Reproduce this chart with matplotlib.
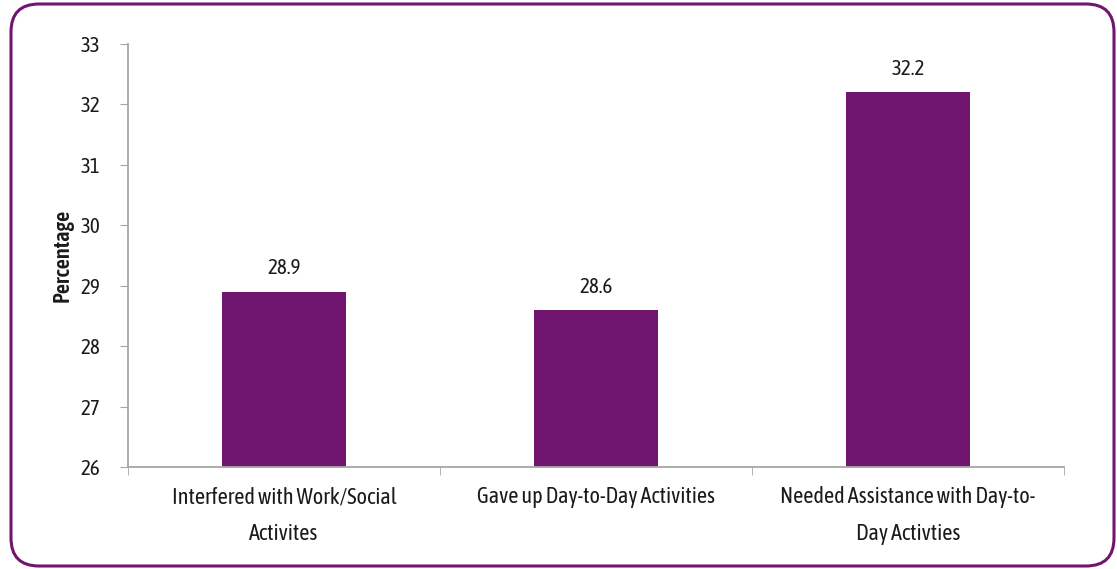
import matplotlib
matplotlib.use("Agg")
import matplotlib.pyplot as plt
from matplotlib.patches import FancyBboxPatch
from matplotlib.transforms import IdentityTransform
import numpy as np

categories = ["Interfered with Work/Social\nActivites",
              "Gave up Day-to-Day Activities",
              "Needed Assistance with Day-to-\nDay Activties"]
values = [28.9, 28.6, 32.2]
yticks = [26, 27, 28, 29, 30, 31, 32, 33]

purple = "#701570"
axis_gray = "#A6A6A6"
text_col = "#1a1a1a"

plt.rcParams['font.family'] = ['Asap Condensed', 'DejaVu Sans']

fig = plt.figure(figsize=(11.17, 5.69), dpi=100)
ax = fig.add_axes([128/1117, 1-467/569, (1064-128)/1117, (467-44)/569])

x = np.arange(len(categories))
ax.bar(x, [v - 26 for v in values], bottom=26, width=0.4, color=purple, zorder=2)
for xi, v in zip(x, values):
    ax.text(xi, v + 0.22, f"{v:.1f}", ha="center", va="bottom", fontsize=15, color=text_col)

ax.set_xlim(-0.5, 2.5)
ax.set_ylim(26, 33)
ax.set_yticks(yticks)
ax.set_yticklabels([str(t) for t in yticks], fontsize=15, color=text_col)
ax.set_xticks(x)
ax.set_xticklabels(categories, fontsize=16, color=text_col, linespacing=1.85)
ax.set_xticks([-0.5, 0.5, 1.5, 2.5], minor=True)
ax.tick_params(axis='x', which='major', length=0, pad=14)
ax.tick_params(axis='x', which='minor', length=6, color=axis_gray, direction='out')
ax.tick_params(axis='y', length=6, color=axis_gray, direction='out', pad=14)

for s in ["top", "right"]:
    ax.spines[s].set_visible(False)
for s in ["left", "bottom"]:
    ax.spines[s].set_color(axis_gray)
    ax.spines[s].set_linewidth(1.3)

ax.set_ylabel("Percentage", fontsize=16, fontweight=600, color=text_col, labelpad=5)

border = FancyBboxPatch((11, 3), 1103, 562,
                        boxstyle="round,pad=0,rounding_size=28",
                        transform=IdentityTransform(),
                        facecolor="none", edgecolor=purple, linewidth=2.2)
fig.add_artist(border)

fig.savefig("out.png", dpi=100, facecolor="white")
